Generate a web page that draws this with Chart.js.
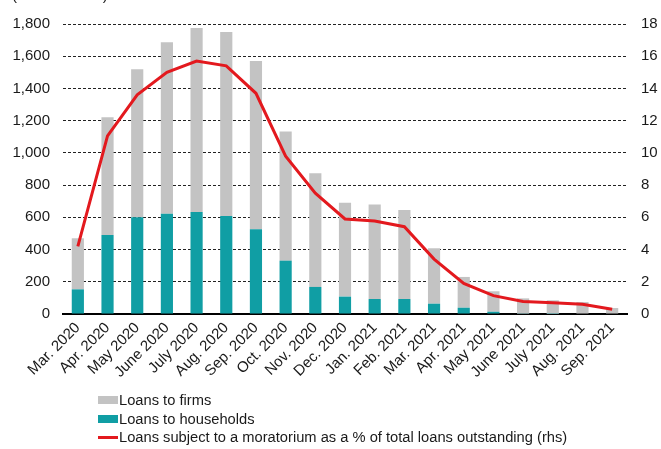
<!DOCTYPE html>
<html>
<head>
<meta charset="utf-8">
<script src="https://cdn.jsdelivr.net/npm/chart.js@4"></script>
<style>
  html, body { margin: 0; padding: 0; background: #fff; }
  #wrap { position: relative; width: 661px; height: 449px; overflow: hidden; }
  #legend { position: absolute; left: 98px; top: 391px; font: 14.7px "Liberation Sans", Arial, sans-serif; color: #1a1a1a; }
  .item { height: 18.7px; line-height: 18.7px; display: flex; align-items: center; white-space: nowrap; }
  .sw { width: 20px; height: 8px; margin-right: 1px; }
  .ln { width: 20px; height: 3px; margin-right: 1px; }
</style>
</head>
<body>
<div id="wrap">
  <canvas id="c" width="661" height="449"></canvas>
  <div id="legend"></div>
</div>
<script>
// Monthly categories
const months = ["Mar. 2020","Apr. 2020","May 2020","June 2020","July 2020","Aug. 2020","Sep. 2020",
  "Oct. 2020","Nov. 2020","Dec. 2020","Jan. 2021","Feb. 2021","Mar. 2021","Apr. 2021",
  "May 2021","June 2021","July 2021","Aug. 2021","Sep. 2021"];

// Loans under moratorium (left axis)
const householdLoans = [153, 490, 600, 623, 633, 608, 526, 331, 168, 108, 93, 93, 64, 39, 14, 2, 1, 0, 0];
const firmLoans      = [317, 731, 919, 1063, 1142, 1142, 1044, 801, 705, 583, 586, 553, 344, 191, 127, 95, 84, 74, 37];

// Share of total loans outstanding, % (right axis)
const moratoriumShare = [4.2, 11.05, 13.6, 15.0, 15.7, 15.4, 13.7, 9.8, 7.5, 5.9, 5.77, 5.42, 3.41, 1.9, 1.14, 0.77, 0.70, 0.60, 0.29];

// Axis settings
const leftMax = 1800, leftStep = 200;
const rightMax = 18, rightStep = 2;

const FONT = '"Liberation Sans", Arial, sans-serif';
const TICK_SIZE = 15;
const GREY = '#c3c3c3', TEAL = '#109ea4', RED = '#e3191e';

const unitNote = {
  id: 'unitNote',
  afterDraw(chart) {
    const ctx = chart.ctx;
    ctx.save();
    ctx.font = TICK_SIZE + 'px ' + FONT;
    ctx.fillStyle = '#1a1a1a';
    ctx.textBaseline = 'alphabetic';
    ctx.fillText('(EUR millions)', 12, 0);
    ctx.restore();
  }
};

new Chart(document.getElementById('c'), {
  data: {
    labels: months,
    datasets: [
      { type: 'line', label: 'Loans subject to a moratorium as a % of total loans outstanding (rhs)',
        data: moratoriumShare, yAxisID: 'y1', borderColor: RED, borderWidth: 3, pointRadius: 0,
        tension: 0, fill: false, order: 0 },
      { type: 'bar', label: 'Loans to households', data: householdLoans, backgroundColor: TEAL,
        stack: 's', yAxisID: 'y', order: 1, barPercentage: 0.41, categoryPercentage: 1 },
      { type: 'bar', label: 'Loans to firms', data: firmLoans, backgroundColor: GREY,
        stack: 's', yAxisID: 'y', order: 1, barPercentage: 0.41, categoryPercentage: 1 }
    ]
  },
  options: {
    responsive: false,
    animation: false,
    layout: { padding: { top: 24, left: 0, right: 0, bottom: 0 } },
    plugins: { legend: { display: false }, tooltip: { enabled: false } },
    scales: {
      x: {
        stacked: true,
        grid: { display: false, drawTicks: false },
        border: { display: true, color: '#000', width: 2 },
        ticks: { font: { size: TICK_SIZE, family: FONT }, color: '#1a1a1a', maxRotation: 45, minRotation: 45,
                 autoSkip: false, padding: 5 },
        afterFit(s) { s.height = 135; }
      },
      y: {
        stacked: true, position: 'left', min: 0, max: leftMax,
        grid: { drawTicks: false, color: (c) => c.tick && c.tick.value === 0 ? 'rgba(0,0,0,0)' : '#222', lineWidth: 1 },
        border: { display: false, dash: [3, 2] },
        ticks: { stepSize: leftStep, font: { size: TICK_SIZE, family: FONT }, color: '#1a1a1a', padding: 13,
                 callback: (v) => v.toLocaleString('en-US') },
        afterFit(s) { s.width = 63; }
      },
      y1: {
        position: 'right', min: 0, max: rightMax,
        grid: { display: false, drawTicks: false },
        border: { display: false },
        ticks: { stepSize: rightStep, font: { size: TICK_SIZE, family: FONT }, color: '#1a1a1a', padding: 14 },
        afterFit(s) { s.width = 34; }
      }
    }
  },
  plugins: [unitNote]
});

// Legend entries in the same order as the original key
const legendItems = [
  { text: 'Loans to firms', kind: 'box', color: GREY },
  { text: 'Loans to households', kind: 'box', color: TEAL },
  { text: 'Loans subject to a moratorium as a % of total loans outstanding (rhs)', kind: 'line', color: RED }
];
const lg = document.getElementById('legend');
legendItems.forEach(it => {
  const row = document.createElement('div');
  row.className = 'item';
  const sw = document.createElement('span');
  sw.className = it.kind === 'box' ? 'sw' : 'ln';
  sw.style.background = it.color;
  const t = document.createElement('span');
  t.textContent = it.text;
  row.appendChild(sw); row.appendChild(t);
  lg.appendChild(row);
});
</script>
</body>
</html>
